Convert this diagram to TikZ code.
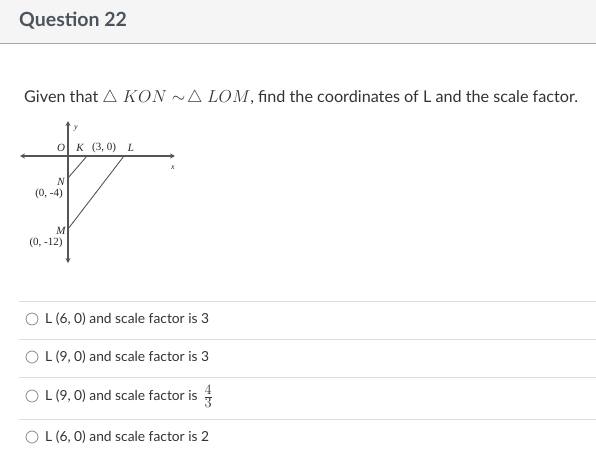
\documentclass[tikz,border=0pt]{standalone}
\usepackage{fontspec}
\setmainfont{Lato}
\newfontfamily\diagfont{Liberation Serif}
\usetikzlibrary{arrows.meta}
\definecolor{hdrbg}{HTML}{F5F5F5}
\definecolor{hdrline}{HTML}{A8A8A8}
\definecolor{hdrtext}{HTML}{4B545C}
\definecolor{bodytext}{HTML}{333333}
\definecolor{sepline}{HTML}{DDDDDD}
\definecolor{radio}{HTML}{8A8A8A}
\definecolor{axcol}{HTML}{555555}
\begin{document}
\begin{tikzpicture}[x=1pt,y=-1pt,
  axis/.style={line width=1.2pt,axcol,<->,>={Stealth[length=5pt,width=5pt]}},
  seg/.style={line width=0.9pt,axcol},
  dlab/.style={font=\diagfont\fontsize{11}{11}\selectfont,inner sep=0pt,text=black!85},
  dlet/.style={font=\diagfont\itshape\fontsize{11}{11}\selectfont,inner sep=0pt,text=black!85},
  opt/.style={font=\fontsize{13.8}{16}\selectfont,text=bodytext,anchor=west,inner sep=0pt},
  radiobtn/.style={circle,draw=radio,line width=0.8pt,minimum size=12pt,inner sep=0pt},
  sep/.style={draw=sepline,line width=0.8pt}]
\useasboundingbox (0,0) rectangle (596,467);
\fill[white] (0,0) rectangle (596,467);
% header
\fill[hdrbg] (0,0) rectangle (596,43);
\draw[hdrline,line width=1pt] (0,43) -- (596,43);
\node[anchor=base west,inner sep=0pt,text=hdrtext,font=\fontsize{19.5}{22}\selectfont\bfseries] (title) at (19,26) {Question 22};
% question
\node[anchor=base west,inner sep=0pt,text=bodytext,font=\fontsize{16.2}{18}\selectfont] (q) at (24,102)
  {Given that {\fontsize{18.5}{20}\selectfont$\triangle\ KON \sim\!\triangle\ LOM$}, find the coordinates of L and the scale factor.};
% diagram
\coordinate (O) at (68,156);
\coordinate (xl) at (20,156);
\coordinate (xr) at (175,156);
\coordinate (yt) at (68,121);
\coordinate (yb) at (68,263);
\coordinate (K) at (87,156);
\coordinate (L) at (124,156);
\coordinate (N) at (68,178);
\coordinate (M) at (68,229);
\draw[axis] (xl) -- (xr);
\draw[axis] (yb) -- (yt);
\draw[seg] (K) -- (N);
\draw[seg] (L) -- (M);
\node[dlet,font=\diagfont\itshape\fontsize{8}{8}\selectfont] (ylab) at (76,129) {y};
\node[dlet,font=\diagfont\itshape\fontsize{8}{8}\selectfont] (xlab) at (173,168) {x};
\node[dlet] (Olab) at (61,148) {O};
\node[dlet] (Klab) at (80,148) {K};
\node[dlab] (Kc) at (104,148) {(3, 0)};
\node[dlet] (Llab) at (131,148) {L};
\node[dlet] (Nlab) at (61,182) {N};
\node[dlab] (Nc) at (49,194) {(0, -4)};
\node[dlet] (Mlab) at (61,231) {M};
\node[dlab] (Mc) at (46,243) {(0, -12)};
% options
\draw[sep] (19,301) -- (596,301);
\draw[sep] (19,339) -- (596,339);
\draw[sep] (19,377) -- (596,377);
\draw[sep] (19,419) -- (596,419);
\node[radiobtn] (r1) at (32,319) {};
\node[radiobtn] (r2) at (32,357) {};
\node[radiobtn] (r3) at (32,396) {};
\node[radiobtn] (r4) at (32,437) {};
\node[opt] (o1) at (45,319) {L (6, 0) and scale factor is 3};
\node[opt] (o2) at (45,357) {L (9, 0) and scale factor is 3};
\node[opt] (o3) at (45,396) {L (9, 0) and scale factor is};
\node[anchor=west,inner sep=0pt,text=bodytext,font=\fontsize{19}{20}\selectfont] (f3) at ([xshift=5.5pt]o3.east) {$\frac{4}{3}$};
\node[opt] (o4) at (45,437) {L (6, 0) and scale factor is 2};
\end{tikzpicture}
\end{document}
